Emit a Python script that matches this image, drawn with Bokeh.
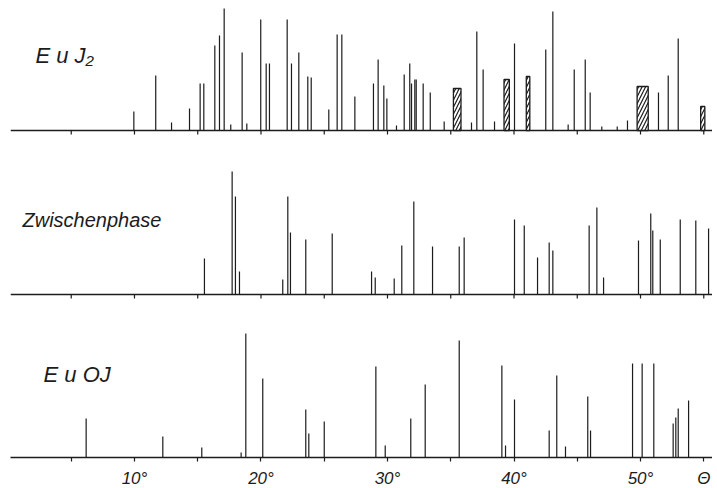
from bokeh.plotting import figure
from bokeh.models import Range1d, FixedTicker, Label, ColumnDataSource
from bokeh.embed import file_html
from bokeh.resources import INLINE

# ---------------- data (theta in degrees, relative intensity) ----------------
eu_j2_theta = [9.95, 11.68, 12.93, 14.35, 15.19, 15.48, 16.35, 16.72, 17.09, 17.61,
               18.51, 18.88, 19.98, 20.41, 20.67, 22.07, 22.41, 22.99, 23.70, 23.97,
               25.36, 26.02, 26.39, 27.42, 28.89, 29.26, 29.71, 29.95, 30.71, 31.32,
               31.76, 31.90, 32.16, 32.27, 32.82, 33.38, 34.48, 36.64, 37.06, 37.56,
               38.46, 40.04, 42.51, 43.07, 44.28, 44.76, 45.63, 46.02, 46.94, 48.16,
               48.97, 51.42, 52.19, 52.98]
eu_j2_int = [19, 55, 8, 22, 47, 47, 85, 95, 123, 6,
             78, 7, 111, 67, 67, 111, 67, 78, 54, 53,
             21, 96, 96, 34, 47, 71, 45, 32, 5, 56,
             67, 47, 51, 51, 47, 38, 9, 8, 99, 61,
             9, 87, 81, 119, 6, 61, 71, 38, 4, 4,
             10, 38, 55, 92]
# broad (hatched) reflections of EuJ2
eu_j2_broad_theta = [35.51, 39.42, 41.11, 50.17, 54.92]
eu_j2_broad_width = [0.60, 0.42, 0.28, 0.88, 0.33]
eu_j2_broad_int = [42, 51, 54, 44, 24]

zw_theta = [15.53, 17.72, 17.98, 18.30, 21.72, 22.12, 22.33, 23.54, 25.63, 28.74,
            29.03, 30.53, 31.13, 32.08, 33.56, 35.67, 36.06, 40.04, 40.81, 41.86,
            42.78, 43.07, 45.94, 46.55, 47.08, 49.84, 50.81, 50.97, 51.56, 53.14,
            54.37, 55.38]
zw_int = [36, 123, 98, 23, 15, 98, 62, 55, 61, 23,
          17, 16, 49, 93, 48, 48, 57, 75, 69, 37,
          52, 44, 69, 87, 17, 54, 81, 64, 55, 75,
          74, 66]

euoj_theta = [6.18, 12.24, 15.32, 18.43, 18.80, 20.14, 23.54, 23.78, 25.00, 29.08,
              29.82, 31.84, 32.98, 35.67, 39.04, 39.33, 40.04, 42.78, 43.38, 44.07,
              45.83, 46.05, 49.37, 50.13, 51.05, 52.58, 52.79, 52.98, 53.80]
euoj_int = [39, 21, 10, 5, 124, 79, 48, 24, 36, 91,
            12, 39, 73, 117, 92, 12, 58, 27, 82, 11,
            61, 27, 94, 94, 94, 34, 40, 49, 57]

panel_names = ["E u J\u2082", "Zwischenphase", "E u OJ"]
tick_values = [5, 10, 15, 20, 25, 30, 35, 40, 45, 50, 55]
tick_labels = {5: "", 10: "10\u00b0", 15: "", 20: "20\u00b0", 25: "", 30: "30\u00b0",
               35: "", 40: "40\u00b0", 45: "", 50: "50\u00b0", 55: "\u0398"}

# ---------------- figure ----------------
X0, X1 = 0.2, 55.69
FH = 449
INK = "#1c1c1c"
FONT = "Liberation Sans"

p = figure(frame_width=702, frame_height=FH,
           x_range=Range1d(X0, X1), y_range=Range1d(0, FH),
           output_backend="svg", toolbar_location=None,
           y_axis_location=None,
           min_border_left=10, min_border_right=0, min_border_top=8, min_border_bottom=0)
p.extra_y_ranges = {"ej2": Range1d(-(457 - 130), -(457 - 130) + FH),
                    "zw": Range1d(-(457 - 294), -(457 - 294) + FH)}
p.outline_line_color = None
p.xgrid.visible = False
p.ygrid.visible = False
p.background_fill_color = "white"
p.border_fill_color = "white"

ax = p.xaxis[0]
ax.ticker = FixedTicker(ticks=tick_values)
ax.major_label_overrides = tick_labels
ax.major_tick_in = 0
ax.major_tick_out = 4
ax.minor_tick_out = 0
ax.minor_tick_in = 0
ax.axis_line_color = INK
ax.axis_line_width = 1.3
ax.major_tick_line_color = INK
ax.major_tick_line_width = 1.2
ax.major_label_standoff = 7
ax.major_label_text_font = FONT
ax.major_label_text_font_style = "italic"
ax.major_label_text_font_size = "17px"
ax.major_label_text_color = INK

# baselines + ticks of the two upper panels
for rn in ["ej2", "zw"]:
    p.segment(x0=[X0], x1=[X1], y0=[0], y1=[0], line_color=INK, line_width=1.3,
              y_range_name=rn)
    p.segment(x0=tick_values, x1=tick_values, y0=[0] * len(tick_values),
              y1=[-4] * len(tick_values), line_color=INK, line_width=1.2, y_range_name=rn)

# sticks
for th, it, rn in [(eu_j2_theta, eu_j2_int, "ej2"), (zw_theta, zw_int, "zw"),
                   (euoj_theta, euoj_int, "default")]:
    src = ColumnDataSource(dict(theta=th, top=it, base=[0] * len(th)))
    p.segment(x0="theta", x1="theta", y0="base", y1="top", source=src,
              line_color=INK, line_width=1.2, y_range_name=rn)

# hatched broad reflections
bsrc = ColumnDataSource(dict(theta=eu_j2_broad_theta, w=eu_j2_broad_width,
                             top=eu_j2_broad_int))
p.vbar(x="theta", width="w", top="top", bottom=0, source=bsrc, y_range_name="ej2",
       fill_color="white", line_color=INK, line_width=1.3,
       hatch_pattern="/", hatch_color=INK, hatch_scale=7, hatch_weight=1.2)

# panel labels
p.add_layout(Label(x=2.17, y=63, y_range_name="ej2", text=panel_names[0],
                   text_font=FONT, text_font_style="italic", text_font_size="22px",
                   text_color=INK))
p.add_layout(Label(x=1.15, y=64, y_range_name="zw", text=panel_names[1],
                   text_font=FONT, text_font_style="italic", text_font_size="20px",
                   text_color=INK))
p.add_layout(Label(x=2.81, y=71, text=panel_names[2],
                   text_font=FONT, text_font_style="italic", text_font_size="22px",
                   text_color=INK))

open("out.html", "w").write(file_html(p, INLINE))
